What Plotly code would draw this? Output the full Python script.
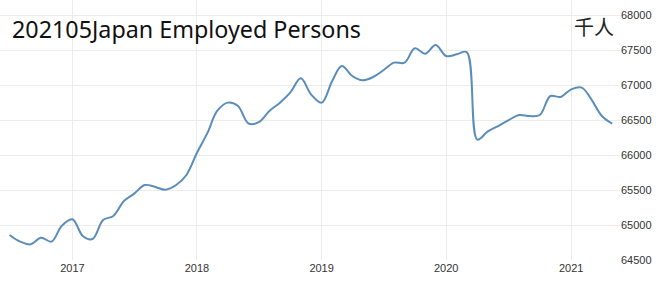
import plotly.graph_objects as go

months = [
    "2016-07", "2016-08", "2016-09", "2016-10", "2016-11", "2016-12",
    "2017-01", "2017-02", "2017-03", "2017-04", "2017-05", "2017-06",
    "2017-07", "2017-08", "2017-09", "2017-10", "2017-11", "2017-12",
    "2018-01", "2018-02", "2018-03", "2018-04", "2018-05", "2018-06",
    "2018-07", "2018-08", "2018-09", "2018-10", "2018-11", "2018-12",
    "2019-01", "2019-02", "2019-03", "2019-04", "2019-05", "2019-06",
    "2019-07", "2019-08", "2019-09", "2019-10", "2019-11", "2019-12",
    "2020-01", "2020-02", "2020-03", "2020-04", "2020-05", "2020-06",
    "2020-07", "2020-08", "2020-09", "2020-10", "2020-11", "2020-12",
    "2021-01", "2021-02", "2021-03", "2021-04", "2021-05",
]
employed = [
    64857, 64762, 64724, 64819, 64762, 64990,
    65081, 64840, 64800, 65071, 65129, 65343,
    65448, 65571, 65543, 65505, 65571, 65714,
    66033, 66319, 66629, 66748, 66700, 66450,
    66470, 66629, 66748, 66890, 67095, 66867,
    66748, 67057, 67271, 67129, 67067, 67114,
    67210, 67319, 67319, 67524, 67448, 67571,
    67414, 67438, 67470, 66220, 66333, 66414,
    66495, 66571, 66557, 66571, 66843, 66829,
    66938, 66962, 66795, 66557, 66448,
]
year_ticks = ["2017-01-01", "2018-01-01", "2019-01-01", "2020-01-01", "2021-01-01"]
year_labels = ["2017", "2018", "2019", "2020", "2021"]
y_ticks = [64500, 65000, 65500, 66000, 66500, 67000, 67500, 68000]
y_labels = [str(v) for v in y_ticks]

title_text = "202105Japan Employed Persons"
unit_text = "千人"

fig = go.Figure()
fig.add_trace(go.Scatter(
    x=[m + "-01" for m in months],
    y=employed,
    mode="lines",
    line=dict(color="#5b8dba", width=2, shape="spline", smoothing=1.0),
    hoverinfo="skip",
))

fig.update_layout(
    width=664, height=283,
    margin=dict(l=0, r=44, t=0, b=23),
    paper_bgcolor="white", plot_bgcolor="white",
    showlegend=False,
    xaxis=dict(
        type="date",
        range=["2016-06-03", "2021-05-24"],
        tickvals=year_ticks, ticktext=year_labels,
        showgrid=True, gridcolor="#ececec", gridwidth=1,
        zeroline=False, showline=False, ticks="",
        tickfont=dict(family="Liberation Sans", size=11, color="#333333"),
    ),
    yaxis=dict(
        side="right",
        range=[64500, 64500 + 260 / 0.07],
        tickvals=y_ticks, ticktext=y_labels,
        showgrid=True, gridcolor="#ececec", gridwidth=1,
        zeroline=False, showline=False, ticks="",
        tickfont=dict(family="Liberation Sans", size=11, color="#333333"),
    ),
    annotations=[
        dict(text=title_text, xref="paper", yref="paper",
             x=10 / 620, y=1 - 11 / 260, xanchor="left", yanchor="top",
             showarrow=False,
             font=dict(family="Noto Sans", size=23.3, color="#111111")),
        dict(text=unit_text, xref="paper", yref="paper",
             x=572 / 620, y=1 - 10 / 260, xanchor="left", yanchor="top",
             showarrow=False,
             font=dict(family="Noto Sans CJK SC", size=20, color="#222222")),
    ],
)

fig.write_html("out.html")
